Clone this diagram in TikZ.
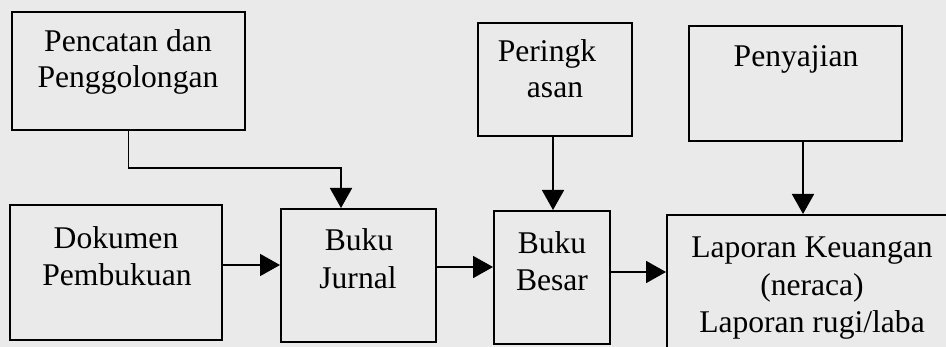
\documentclass[tikz,border=0pt]{standalone}
\usepackage{fontspec}
\setmainfont{Liberation Serif}
\usetikzlibrary{arrows.meta,fit}
\definecolor{bgpaper}{RGB}{234,234,234}
\tikzset{
  box/.style={draw=black, line width=1pt, inner sep=0pt, rectangle},
  txt/.style={anchor=base, inner sep=0pt, font=\fontsize{15.8}{18.5}\selectfont},
  arr/.style={draw=black, line width=0.9pt, -{Triangle[length=10pt,width=11pt]}},
}
\begin{document}
\begin{tikzpicture}[x=0.5pt,y=-0.5pt]
\fill[bgpaper] (0,0) rectangle (946,347);
\clip (0,0) rectangle (946,347);
% boxes
\node[box, fit={(12,12) (245,130)}] (b1) {};
\node[box, fit={(478,23) (632,136)}] (b2) {};
\node[box, fit={(689,26) (902,141)}] (b3) {};
\node[box, fit={(10,205) (222,340)}] (b4) {};
\node[box, fit={(281,209) (436,342)}] (b5) {};
\node[box, fit={(494,211) (610,344)}] (b6) {};
\node[box, fit={(667,215) (956,360)}] (b7) {};
% texts
\node[txt] (t1a) at (128,52) {Pencatan dan};
\node[txt] (t1b) at (128,88) {Penggolongan};
\node[txt] (t2a) at (547,62) {Peringk};
\node[txt] (t2b) at (555,98) {asan};
\node[txt] (t3a) at (796,67) {Penyajian};
\node[txt] (t4a) at (116,248) {Dokumen};
\node[txt] (t4b) at (117,285) {Pembukuan};
\node[txt] (t5a) at (359,250) {Buku};
\node[txt] (t5b) at (358,288) {Jurnal};
\node[txt] (t6a) at (552,253) {Buku};
\node[txt] (t6b) at (552,290) {Besar};
\node[txt] (t7a) at (812,257) {Laporan Keuangan};
\node[txt] (t7b) at (812,295) {(neraca)};
\node[txt] (t7c) at (812,332) {Laporan rugi/laba};
% helper coordinates
\coordinate (k1) at (341,168);
\coordinate (y1) at (0,265);
\coordinate (y2) at (0,267);
\coordinate (y3) at (0,272);
\coordinate (x1) at (553,0);
\coordinate (x2) at (803,0);
% connectors
\draw[arr] (b1.south) |- (k1) -- (k1 |- b5.north);
\draw[arr] (b4.east |- y1) -- (b5.west |- y1);
\draw[arr] (b5.east |- y2) -- (b6.west |- y2);
\draw[arr] (b6.east |- y3) -- (b7.west |- y3);
\draw[arr] (x1 |- b2.south) -- (x1 |- b6.north);
\draw[arr] (x2 |- b3.south) -- (x2 |- b7.north);
\end{tikzpicture}
\end{document}
